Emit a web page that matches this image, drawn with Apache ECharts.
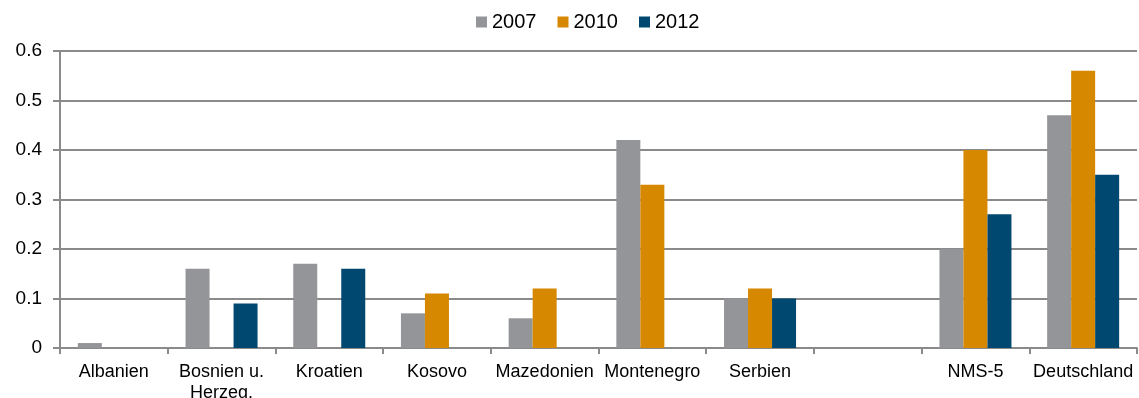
<!DOCTYPE html>
<html>
<head>
<meta charset="utf-8">
<style>
  html, body { margin: 0; padding: 0; background: #ffffff; }
  #chart { width: 1139px; height: 398px; }
</style>
<script src="https://cdn.jsdelivr.net/npm/echarts@6/dist/echarts.min.js"></script>
</head>
<body>
<div id="chart"></div>
<script>
// Categories (one empty slot separates the regional group from NMS-5 and Deutschland)
const categories = ['Albanien', 'Bosnien u.\nHerzeg.', 'Kroatien', 'Kosovo', 'Mazedonien',
                    'Montenegro', 'Serbien', '', 'NMS-5', 'Deutschland'];

// Series values; '-' marks a missing observation
const values2007 = [0.01, 0.16, 0.17, 0.07, 0.06, 0.42, 0.10, '-', 0.20, 0.47];
const values2010 = ['-', '-', '-', 0.11, 0.12, 0.33, 0.12, '-', 0.40, 0.56];
const values2012 = ['-', 0.09, 0.16, '-', '-', '-', 0.10, '-', 0.27, 0.35];

const seriesNames = ['2007', '2010', '2012'];
const seriesColors = ['#939598', '#d68800', '#00486f'];

const axisGray = '#8a8a8a';
const fontFamily = 'Liberation Sans, Arial, sans-serif';

const chart = echarts.init(document.getElementById('chart'));

const seriesData = [values2007, values2010, values2012];

chart.setOption({
  animation: false,
  textStyle: { fontFamily: fontFamily },
  legend: {
    left: 476,
    top: 12,
    padding: 0,
    itemWidth: 11,
    itemHeight: 11,
    itemGap: 21,
    icon: 'rect',
    textStyle: { fontSize: 20, color: '#000' },
    data: seriesNames
  },
  grid: {
    left: 60,
    right: 2,
    top: 51,
    bottom: 50,
    containLabel: false,
    outerBoundsMode: 'none'
  },
  xAxis: {
    type: 'category',
    data: categories,
    boundaryGap: true,
    axisLine: { show: true, lineStyle: { color: axisGray, width: 2 } },
    axisTick: { show: true, length: 6, lineStyle: { color: axisGray, width: 2 } },
    axisLabel: {
      interval: 0,
      margin: 14,
      fontSize: 18,
      lineHeight: 21,
      color: '#000'
    }
  },
  yAxis: {
    type: 'value',
    min: 0,
    max: 0.6,
    interval: 0.1,
    axisLine: { show: true, lineStyle: { color: axisGray, width: 2 } },
    axisTick: { show: true, length: 7, lineStyle: { color: axisGray, width: 2 } },
    axisLabel: {
      margin: 18,
      fontSize: 19,
      color: '#000',
      formatter: function (v) { return v === 0 ? '0' : v.toFixed(1); }
    },
    splitLine: { show: true, lineStyle: { color: axisGray, width: 2 } }
  },
  series: seriesNames.map(function (name, i) {
    return {
      name: name,
      type: 'bar',
      data: seriesData[i],
      barWidth: 24,
      barGap: '0%',
      itemStyle: { color: seriesColors[i] }
    };
  })
});
</script>
</body>
</html>
